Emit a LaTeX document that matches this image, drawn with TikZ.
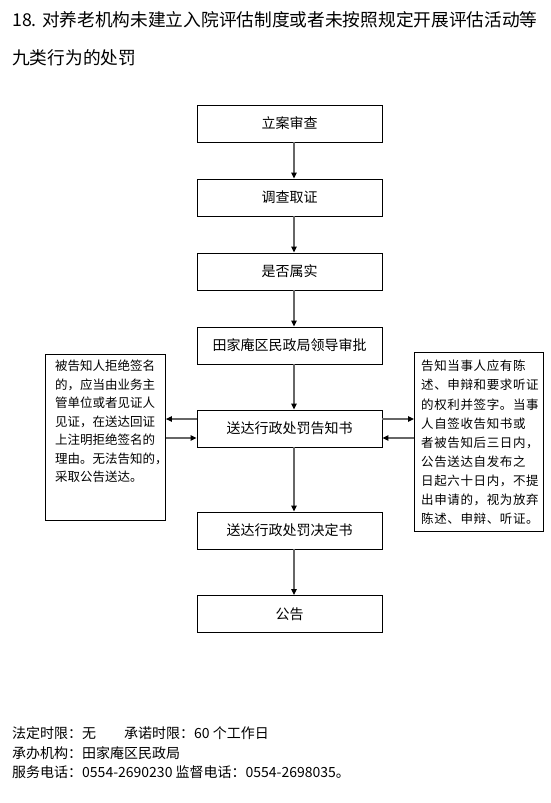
\documentclass[tikz,border=0pt]{standalone}
\usepackage{fontspec}
\setmainfont{Noto Sans CJK SC}
\newfontfamily\rspaced[LetterSpace=5]{Noto Sans CJK SC}
\usetikzlibrary{arrows.meta,positioning}
\begin{document}
\begin{tikzpicture}[x=1pt,y=-1pt,
  mainbox/.style={draw=black,line width=0.9pt,minimum width=185pt,minimum height=37pt,inner sep=0pt,font=\fontsize{14}{16}\selectfont},
  sidebox/.style={draw=black,line width=0.9pt,inner sep=0pt,anchor=north west},
  sidetext/.style={anchor=north west,inner sep=0pt,align=left},
  arr/.style={draw=black!60,line width=1.1pt,-{Triangle[length=6pt,width=5.5pt,color=black]}},
  plain/.style={anchor=west,inner sep=0pt}]
\useasboundingbox (0,0) rectangle (551,803);
\node[plain,font=\fontsize{17.7}{19}\selectfont] (t1) at (12,20) {18. 对养老机构未建立入院评估制度或者未按照规定开展评估活动等};
\node[plain,font=\fontsize{17.7}{19}\selectfont] (t2) at (12,58) {九类行为的处罚};

\node[mainbox] (b1) at (289.5,123.5) {立案审查};
\node[mainbox] (b2) at (289.5,197.5) {调查取证};
\node[mainbox] (b3) at (289.5,271.5) {是否属实};
\node[mainbox] (b4) at (289.5,345.5) {田家庵区民政局领导审批};
\node[mainbox] (b5) at (289.5,428.5) {送达行政处罚告知书};
\node[mainbox] (b6) at (289.5,530.5) {送达行政处罚决定书};
\node[mainbox] (b7) at (289.5,614) {公告};

\node[sidebox,minimum width=120pt,minimum height=166pt] (lb) at (45,354) {};
\node[sidetext,font=\fontsize{12.5}{18.5}\selectfont] (lt) at ([shift={(10pt,-6pt)}]lb.north west) {被告知人拒绝签名\\的，应当由业务主\\管单位或者见证人\\见证，在送达回证\\上注明拒绝签名的\\理由。无法告知的，\\采取公告送达。};

\node[sidebox,minimum width=129pt,minimum height=179pt] (rb) at (414,352) {};
\node[sidetext,font=\rspaced\fontsize{12.5}{19.1}\selectfont] (rt) at ([shift={(7pt,-8pt)}]rb.north west) {告知当事人应有陈\\述、申辩和要求听证\\的权利并签字。当事\\人自签收告知书或\\者被告知后三日内，\\公告送达自发布之\\日起六十日内，不提\\出申请的，视为放弃\\陈述、申辩、听证。};

\foreach \a/\b in {b1/b2,b2/b3,b3/b4,b4/b5,b5/b6,b6/b7}
  \draw[arr] ([xshift=4.5pt]\a.south) -- ([xshift=4.5pt]\b.north);

\coordinate (lu) at ([yshift=9.5pt]b5.west);
\coordinate (ld) at ([yshift=-9.5pt]b5.west);
\coordinate (ru) at ([yshift=9.5pt]b5.east);
\coordinate (rd) at ([yshift=-9.5pt]b5.east);
\draw[arr] (lu) -- (lu -| lb.east);
\draw[arr] (ld -| lb.east) -- (ld);
\draw[arr] (ru) -- (ru -| rb.west);
\draw[arr] (rd -| rb.west) -- (rd);

\node[plain,font=\fontsize{14}{16}\selectfont] (f1) at (12,733) {法定时限：无\hspace{28pt}承诺时限：60 个工作日};
\node[plain,font=\fontsize{14}{16}\selectfont] (f2) at (12,753) {承办机构：田家庵区民政局};
\node[plain,font=\fontsize{14}{16}\selectfont] (f3) at (12,772) {服务电话：0554-2690230 监督电话：0554-2698035。};
\end{tikzpicture}
\end{document}
